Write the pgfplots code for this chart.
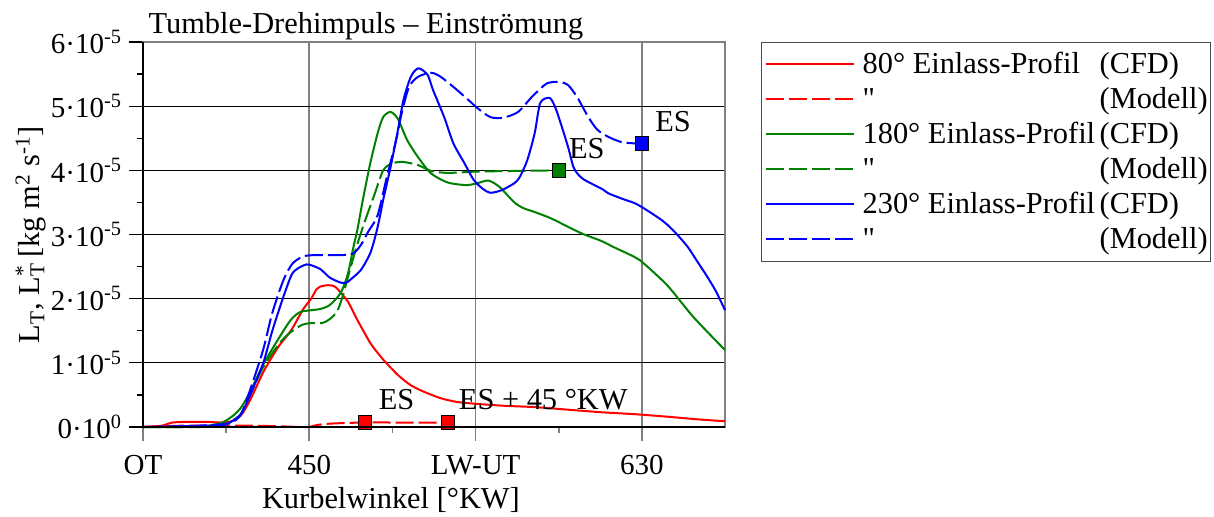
\documentclass[border=0pt]{standalone}
\usepackage{fontspec}
\setmainfont{Liberation Serif}
\usepackage{pgfplots}
\pgfplotsset{compat=1.18}
\definecolor{cred}{RGB}{255,0,0}
\definecolor{cgreen}{RGB}{0,128,0}
\definecolor{cblue}{RGB}{0,0,255}
\newcommand{\lfont}{\fontsize{15.2}{18}\selectfont}
\newcommand{\tfont}{\fontsize{14.5}{17}\selectfont}
\begin{document}
\begin{tikzpicture}
\useasboundingbox (-71.5pt,-44.5pt) rectangle (535.5pt,213.5pt);
\begin{axis}[
  at={(0pt,0pt)}, anchor=south west,
  scale only axis, width=291pt, height=192.5pt,
  xmin=360, xmax=675, ymin=0, ymax=6,
  clip=false,
  xtick={360,450,540,630}, xticklabels={OT,450,LW-UT,630},
  minor xtick={405,495,585},
  ytick={0,1,2,3,4,5,6},
  yticklabels={0·10\textsuperscript{0},1·10\textsuperscript{-5},2·10\textsuperscript{-5},3·10\textsuperscript{-5},4·10\textsuperscript{-5},5·10\textsuperscript{-5},6·10\textsuperscript{-5}},
  minor ytick={0.5,1.5,2.5,3.5,4.5,5.5},
  tick align=outside, tick pos=left,
  major tick length=7pt, minor tick length=3pt,
  xmajorgrids, ymajorgrids,
  x grid style={gray, line width=0.8pt},
  y grid style={black, line width=0.5pt},
  axis line style={gray, line width=0.8pt},
  tick style={black, line width=0.6pt},
  every x tick/.style={gray, line width=0.8pt},
  xticklabel style={font=\tfont},
  xticklabel shift=3.5pt,
  yticklabel style={font=\tfont},
  title={Tumble-Drehimpuls – Einströmung},
  title style={at={(axis description cs:0.009,1)}, anchor=base west, yshift=-1.5pt, inner sep=0pt, font=\lfont},
  xlabel={Kurbelwinkel [°KW]},
  xlabel style={at={(axis description cs:0.426,-0.2104)}, anchor=base, inner sep=0pt, font=\lfont},
  ylabel={L\textsubscript{T}, L\rlap{\textsubscript{T}}\textsuperscript{*} [kg m\textsuperscript{2} s\textsuperscript{-1}]},
  ylabel style={at={(axis description cs:-0.177,0.5)}, anchor=base, rotate=0, inner sep=0pt, font=\lfont},
  legend style={at={(axis description cs:1.0619,1)}, anchor=north west, draw=black!70, line width=0.6pt,
    inner xsep=1.5pt, inner ysep=2.15pt, row sep=0pt, column sep=4pt, font=\lfont,
    cells={anchor=west}, nodes={inner sep=0pt, text height=13.5pt, text depth=4pt}},
  legend image code/.code={\draw[#1] (0pt,0pt) -- (44pt,0pt);},
  every axis plot/.append style={line width=1pt, smooth, tension=0.45},
  mdash/.style={dash pattern=on 9pt off 2.5pt},
  after end axis/.code={\draw[black, line width=0.9pt] (rel axis cs:0,1) -- (rel axis cs:0,0) -- (rel axis cs:1,0);},
]
% 80 deg CFD
\addplot[cred] coordinates {(360,0) (370,0.02) (376,0.07) (385,0.08) (395,0.08) (402,0.07) (408,0.09) (413,0.18) (418,0.42) (425,0.85) (430,1.1) (434,1.28) (440,1.5) (445,1.75) (447,1.85) (451,2.0) (454,2.15) (456,2.19) (460,2.21) (463,2.2) (465,2.16) (468,2.06) (471,1.95) (476,1.67) (483,1.31) (488,1.12) (490,1.05) (498,0.81) (505,0.65) (512,0.55) (521,0.45) (530,0.39) (541,0.36) (556,0.33) (572,0.31) (590,0.27) (608,0.23) (626,0.2) (644,0.16) (660,0.12) (675,0.09)};
\addlegendentry{\makebox[118.5pt][l]{80° Einlass-Profil}(CFD)}
% 80 deg Modell
\addplot[cred, mdash] coordinates {(360,0) (370,0.01) (380,0.02) (400,0.02) (420,0.02) (435,0.01) (445,0) (450,0) (454,0.03) (460,0.05) (467,0.06) (480,0.07) (500,0.07) (525,0.07)};
\addlegendentry{\makebox[118.5pt][l]{\textquotedbl}(Modell)}
% 180 deg CFD
\addplot[cgreen] coordinates {(360,0) (380,0) (392,0.01) (402,0.06) (408,0.16) (413,0.3) (418,0.55) (425,0.97) (433,1.36) (440,1.67) (445,1.79) (451,1.82) (456,1.84) (461,1.9) (467,2.09) (471,2.4) (474,2.82) (476,3.07) (479,3.54) (483,4.11) (487,4.58) (490,4.83) (494,4.91) (498,4.8) (503,4.47) (509,4.2) (516,3.95) (525,3.81) (535,3.77) (541,3.8) (547,3.84) (553,3.74) (561,3.5) (566,3.41) (572,3.35) (581,3.25) (590,3.12) (598,3.01) (608,2.9) (615,2.8) (626,2.65) (631,2.55) (644,2.2) (658,1.71) (675,1.2)};
\addlegendentry{\makebox[118.5pt][l]{180° Einlass-Profil}(CFD)}
% 180 deg Modell
\addplot[cgreen, mdash] coordinates {(360,0) (390,0) (402,0.01) (407,0.08) (413,0.2) (418,0.5) (425,0.93) (434,1.31) (440,1.48) (446,1.59) (451,1.62) (457,1.62) (461,1.68) (465,1.8) (468,2.03) (472,2.45) (476,2.85) (480,3.2) (485,3.6) (490,4.0) (495,4.11) (501,4.13) (509,4.08) (516,3.99) (525,3.96) (540,3.98) (560,3.99) (585,4.0)};
\addlegendentry{\makebox[118.5pt][l]{\textquotedbl}(Modell)}
% 230 deg CFD
\addplot[cblue] coordinates {(360,0) (380,0.01) (391,0.02) (402,0.02) (407,0.07) (413,0.2) (418,0.5) (425,0.99) (430,1.5) (436,2.03) (441,2.4) (447,2.52) (450,2.53) (456,2.46) (461,2.33) (467,2.25) (470,2.25) (472,2.29) (478,2.45) (483,2.71) (486,3.0) (488,3.25) (490,3.54) (494,4.05) (498,4.63) (501,5.1) (505,5.46) (509,5.59) (514,5.49) (517,5.25) (523,4.83) (528,4.42) (534,4.11) (539,3.85) (544,3.71) (548,3.65) (554,3.69) (561,3.8) (564,3.9) (568,4.16) (572,4.58) (575,5.05) (580,5.13) (583,4.99) (586,4.74) (590,4.37) (593,4.05) (596,3.92) (599,3.85) (605,3.76) (609,3.7) (612,3.64) (620,3.55) (626,3.49) (631,3.41) (640,3.24) (645,3.12) (650,2.97) (655,2.8) (660,2.58) (665,2.36) (670,2.12) (675,1.82)};
\addlegendentry{\makebox[118.5pt][l]{230° Einlass-Profil}(CFD)}
% 230 deg Modell
\addplot[cblue, mdash] coordinates {(360,0) (380,0.01) (391,0.02) (407,0.06) (413,0.2) (418,0.58) (425,1.2) (430,1.78) (436,2.29) (441,2.55) (447,2.66) (454,2.68) (468,2.68) (474,2.71) (478,2.84) (482,3.05) (487,3.3) (492,3.9) (497,4.47) (500,4.89) (504,5.3) (509,5.46) (516,5.52) (521,5.46) (528,5.3) (536,5.1) (541,4.97) (548,4.83) (555,4.82) (563,4.91) (570,5.13) (575,5.27) (579,5.36) (585,5.38) (590,5.33) (595,5.14) (601,4.83) (606,4.63) (612,4.52) (619,4.44) (626,4.42) (630,4.41)};
\addlegendentry{\makebox[118.5pt][l]{\textquotedbl}(Modell)}
% markers
\addplot[only marks, mark=square*, mark size=3.4pt, mark options={fill=cred, draw=black, line width=0.4pt}, forget plot] coordinates {(480,0.07) (525,0.07)};
\addplot[only marks, mark=square*, mark size=3.4pt, mark options={fill=cgreen, draw=black, line width=0.4pt}, forget plot] coordinates {(585,4.0)};
\addplot[only marks, mark=square*, mark size=3.4pt, mark options={fill=cblue, draw=black, line width=0.4pt}, forget plot] coordinates {(630,4.42)};
\node[anchor=base west, inner sep=0pt, font=\lfont] at (axis cs:487.4,0.28) {ES};
\node[anchor=base west, inner sep=0pt, font=\lfont] at (axis cs:530.8,0.28) {ES + 45 °KW};
\node[anchor=base west, inner sep=0pt, font=\lfont] at (axis cs:590.4,4.19) {ES};
\node[anchor=base west, inner sep=0pt, font=\lfont] at (axis cs:637.1,4.61) {ES};
\end{axis}
\end{tikzpicture}
\end{document}
